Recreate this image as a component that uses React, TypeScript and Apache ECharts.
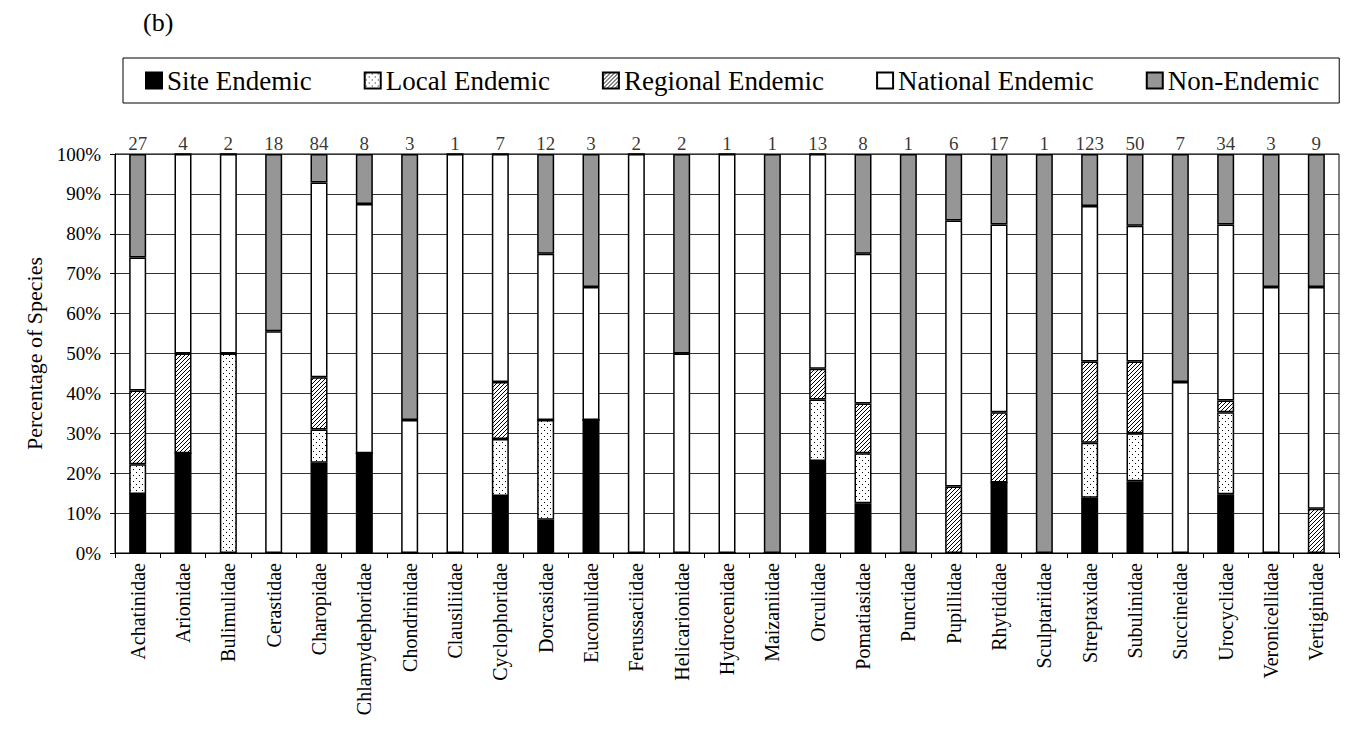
import React, { useEffect, useRef } from "react";
import * as echarts from "echarts";

const categories = [
  "Achatinidae", "Arionidae", "Bulimulidae", "Cerastidae", "Charopidae",
  "Chlamydephoridae", "Chondrinidae", "Clausiliidae", "Cyclophoridae", "Dorcasidae",
  "Euconulidae", "Ferussaciidae", "Helicarionidae", "Hydrocenidae", "Maizaniidae",
  "Orculidae", "Pomatiasidae", "Punctidae", "Pupillidae", "Rhytididae",
  "Sculptariidae", "Streptaxidae", "Subulinidae", "Succineidae", "Urocyclidae",
  "Veronicellidae", "Vertiginidae",
];

// species counts per endemism class
const siteEndemic = [4, 1, 0, 0, 19, 2, 0, 0, 1, 1, 1, 0, 0, 0, 0, 3, 1, 0, 0, 3, 0, 17, 9, 0, 5, 0, 0];
const localEndemic = [2, 0, 1, 0, 7, 0, 0, 0, 1, 3, 0, 0, 0, 0, 0, 2, 1, 0, 0, 0, 0, 17, 6, 0, 7, 0, 0];
const regionalEndemic = [5, 1, 0, 0, 11, 0, 0, 0, 1, 0, 0, 0, 0, 0, 0, 1, 1, 0, 1, 3, 0, 25, 9, 0, 1, 0, 1];
const nationalEndemic = [9, 2, 1, 10, 41, 5, 1, 1, 4, 5, 1, 2, 1, 1, 0, 7, 3, 0, 4, 8, 0, 48, 17, 3, 15, 2, 5];
const nonEndemic = [7, 0, 0, 8, 6, 1, 2, 0, 0, 3, 1, 0, 1, 0, 1, 0, 2, 1, 1, 3, 1, 16, 9, 4, 6, 1, 3];

const seriesNames = ["Site Endemic", "Local Endemic", "Regional Endemic", "National Endemic", "Non-Endemic"];
const yTicks = [0, 10, 20, 30, 40, 50, 60, 70, 80, 90, 100];

const FONT = "'Liberation Serif', 'Times New Roman', serif";

function makeDots() {
  const c = document.createElement("canvas");
  c.width = 6;
  c.height = 6;
  const g = c.getContext("2d")!;
  g.fillStyle = "#fff";
  g.fillRect(0, 0, 6, 6);
  g.fillStyle = "#000";
  g.fillRect(1, 1, 1, 1);
  g.fillRect(4, 4, 1, 1);
  return c;
}

function makeHatch() {
  const c = document.createElement("canvas");
  c.width = 4;
  c.height = 4;
  const g = c.getContext("2d")!;
  g.fillStyle = "#fff";
  g.fillRect(0, 0, 4, 4);
  g.fillStyle = "#000";
  for (let i = 0; i < 4; i++) g.fillRect(i, 3 - i, 1, 1);
  return c;
}

export default function App() {
  const ref = useRef<HTMLDivElement>(null);

  useEffect(() => {
    document.body.style.margin = "0";
    document.body.style.overflow = "hidden";
    const chart = echarts.init(ref.current!, null, { renderer: "svg" });

    const counts = [siteEndemic, localEndemic, regionalEndemic, nationalEndemic, nonEndemic];
    const totals = categories.map((_, i) => counts.reduce((s, arr) => s + arr[i], 0));
    const pct = counts.map((arr) => arr.map((v, i) => (v / totals[i]) * 100));

    const dots = makeDots();
    const hatch = makeHatch();
    const fills: any[] = [
      "#000000",
      { image: dots, repeat: "repeat", imageWidth: 6, imageHeight: 6 },
      { image: hatch, repeat: "repeat", imageWidth: 4, imageHeight: 4 },
      "#ffffff",
      "#969696",
    ];

    const barSeries = seriesNames.map((name, k) => ({
      name,
      type: "bar",
      stack: "total",
      barWidth: 17,
      data: pct[k],
      itemStyle: { color: fills[k], borderColor: "#000", borderWidth: 1.5 },
      emphasis: { disabled: true },
    }));

    const option: any = {
      animation: false,
      textStyle: { fontFamily: FONT, color: "#000" },
      title: {
        text: "(b)",
        left: 138,
        top: 4,
        textStyle: { fontFamily: FONT, fontSize: 26, fontWeight: "normal", color: "#000" },
      },
      legend: {
        data: seriesNames,
        left: 123,
        top: 58,
        padding: [9, 20, 9, 22],
        itemGap: 52,
        itemWidth: 16,
        itemHeight: 16,
        icon: "rect",
        borderColor: "#000",
        borderWidth: 1,
        selectedMode: false,
        textStyle: { fontFamily: FONT, fontSize: 27, color: "#000" },
      },
      grid: {
        left: 115,
        right: 8,
        top: 154,
        bottom: 181,
        show: true,
        borderColor: "#000",
        borderWidth: 1,
      },
      xAxis: {
        type: "category",
        data: categories,
        axisLine: { lineStyle: { color: "#000", width: 1 } },
        axisTick: { show: true, length: 5, lineStyle: { color: "#000" } },
        axisLabel: {
          rotate: 90,
          interval: 0,
          margin: 10,
          fontSize: 20,
          fontFamily: FONT,
          color: "#000",
        },
      },
      yAxis: {
        type: "value",
        min: yTicks[0],
        max: yTicks[yTicks.length - 1],
        interval: 10,
        name: "Percentage of Species",
        nameLocation: "middle",
        nameGap: 67,
        nameTextStyle: { fontFamily: FONT, fontSize: 22, color: "#000" },
        axisLine: { show: true, lineStyle: { color: "#000" } },
        axisTick: { show: true, length: 5, lineStyle: { color: "#000" } },
        axisLabel: {
          formatter: "{value}%",
          fontSize: 19,
          fontFamily: FONT,
          color: "#000",
          margin: 14,
        },
        splitLine: { show: true, lineStyle: { color: "#333", width: 1 } },
      },
      series: [
        ...barSeries,
        {
          name: "totals",
          type: "scatter",
          data: categories.map(() => 100),
          symbolSize: 1,
          itemStyle: { color: "rgba(0,0,0,0)" },
          label: {
            show: true,
            position: "top",
            distance: 1,
            fontSize: 19,
            fontFamily: FONT,
            color: "#000",
            formatter: (p: any) => String(totals[p.dataIndex]),
          },
          emphasis: { disabled: true },
          silent: true,
          z: 5,
        },
      ],
    };

    chart.setOption(option);
    return () => chart.dispose();
  }, []);

  return <div ref={ref} style={{ width: 1347, height: 734 }} />;
}
